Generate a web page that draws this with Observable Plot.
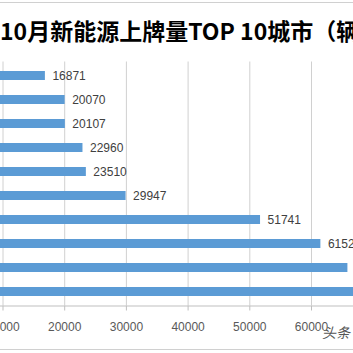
<!DOCTYPE html>
<html>
<head>
<meta charset="utf-8">
<script src="https://cdn.jsdelivr.net/npm/d3@7"></script>
<script src="https://cdn.jsdelivr.net/npm/@observablehq/plot@0.6"></script>
<style>
  html, body { margin: 0; padding: 0; background: #fff; }
  #wrap { position: relative; width: 353px; height: 353px; overflow: hidden; background: #fff; }
  #wrap svg { position: absolute; left: 0; top: 0; overflow: hidden; }
  .topline { position: absolute; left: 0; top: 2px; width: 353px; height: 1px; background: #d0d0d0; }
  .botline { position: absolute; left: 0; top: 349px; width: 353px; height: 1px; background: #d0d0d0; }
  .title { position: absolute; left: 0px; top: 15px; white-space: nowrap; font-family: "Noto Sans CJK SC", sans-serif; font-weight: bold; font-size: 23px; line-height: 30px; color: #000; letter-spacing: 0px; }
  .wm { position: absolute; left: 322px; top: 322px; font-family: "Noto Sans CJK SC", sans-serif; font-size: 14px; color: #555; white-space: nowrap; font-style: italic; }
</style>
</head>
<body>
<div id="wrap">
  <div class="topline"></div>
  <div class="botline"></div>
</div>
<script>
// Data (top to bottom as drawn)
const cities = ["TOP10", "TOP9", "TOP8", "TOP7", "TOP6", "TOP5", "TOP4", "TOP3", "TOP2", "TOP1"];
const values = [16871, 20070, 20107, 22960, 23510, 29947, 51741, 61520, 65900, 72000];
const xTicks = [0, 10000, 20000, 30000, 40000, 50000, 60000, 70000, 80000];
const titleText = "10月新能源上牌量TOP 10城市（辆）";

const data = cities.map((c, i) => ({city: c, value: values[i]}));

const chart = Plot.plot({
  width: 353,
  height: 353,
  marginTop: 61.5,
  marginBottom: 47.5,
  marginLeft: 0,
  marginRight: 0,
  style: {fontFamily: "Liberation Sans, Arial, sans-serif", fontSize: "12px", background: "transparent", color: "#595959"},
  x: {domain: [0, 80000], range: [-59.2, 434.4], ticks: xTicks, tickFormat: d => String(d), tickSize: 5, tickPadding: 11, line: true, label: null},
  y: {domain: cities, paddingInner: 0.63, paddingOuter: 0.315, axis: null, label: null},
  marks: [
    Plot.ruleX(xTicks, {stroke: "#d0d0d0", strokeWidth: 1}),
    Plot.barX(data, {y: "city", x: "value", fill: "#5b9bd5"}),
    Plot.text(data, {y: "city", x: "value", text: d => String(d.value), textAnchor: "start", dx: 7, fill: "#404040", fontSize: 12})
  ]
});

const wrap = document.getElementById("wrap");
wrap.appendChild(chart);
chart.querySelectorAll('[aria-label^="x-axis"] line, [aria-label^="x-axis"] path').forEach(el => {
  el.setAttribute("stroke", "#bfbfbf");
  el.style.stroke = "#bfbfbf";
});
chart.querySelectorAll('[aria-label="frame"]').forEach(el => { el.setAttribute("stroke", "#bfbfbf"); });

const t = document.createElement("div");
t.className = "title";
t.textContent = titleText;
wrap.appendChild(t);

const wm = document.createElement("div");
wm.className = "wm";
wm.textContent = "头条";
wrap.appendChild(wm);
</script>
</body>
</html>
